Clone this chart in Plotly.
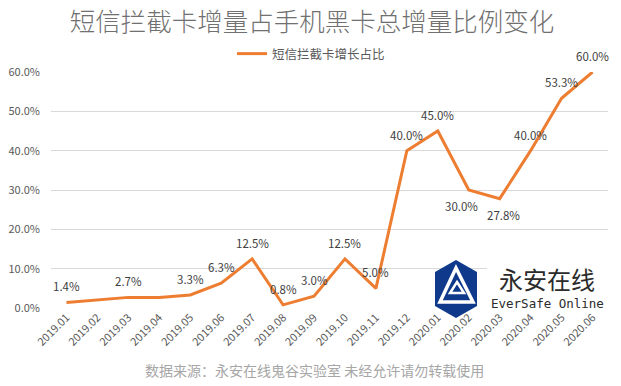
import plotly.graph_objects as go

# ---------------- data ----------------
months = ["2019.01", "2019.02", "2019.03", "2019.04", "2019.05", "2019.06",
          "2019.07", "2019.08", "2019.09", "2019.10", "2019.11", "2019.12",
          "2020.01", "2020.02", "2020.03", "2020.04", "2020.05", "2020.06"]
share_pct = [1.4, 2.1, 2.7, 2.7, 3.3, 6.3, 12.5, 0.8, 3.0, 12.5, 5.0, 40.0,
             45.0, 30.0, 27.8, 40.0, 53.3, 60.0]
y_ticks = [0, 10, 20, 30, 40, 50, 60]
y_tick_labels = ["0.0%", "10.0%", "20.0%", "30.0%", "40.0%", "50.0%", "60.0%"]
series_name = "短信拦截卡增长占比"
title_text = "短信拦截卡增量占手机黑卡总增量比例变化"
source_text = "数据来源：永安在线鬼谷实验室 未经允许请勿转载使用"
logo_cn = "永安在线"
logo_en = "EverSafe Online"

# ---------------- styling ----------------
W, H = 621, 386
FONT = "Noto Sans CJK SC"
ORANGE = "#ED7D31"
GRAY = "#595959"
NAVY = "#0f3a8c"

hidden_labels = {"2019.02", "2019.04"}
below_labels = {"2020.02": -7, "2020.03": 4}


def px(x):
    return x / W


def py(y):
    return 1 - y / H


fig = go.Figure()
fig.add_trace(go.Scatter(
    x=months, y=share_pct, mode="lines", name=series_name,
    line=dict(color=ORANGE, width=3), cliponaxis=False,
))

annotations = []
for i, (m, v) in enumerate(zip(months, share_pct)):
    if m in hidden_labels:
        continue
    if m in below_labels:
        ys, xs = -16, below_labels[m]
    else:
        ys, xs = 16, 0
    annotations.append(dict(
        x=i, y=v, xref="x", yref="y", text=f"{v:.1f}%", showarrow=False,
        yshift=ys, xshift=xs, xanchor="center", yanchor="middle",
        font=dict(family=FONT, size=11.5, color="#404040"),
    ))

# footer
annotations.append(dict(
    x=px(314), y=py(370), xref="paper", yref="paper", text=source_text,
    showarrow=False, xanchor="center", yanchor="middle",
    font=dict(family=FONT, size=14, color="#a6a6a6"),
))
# logo texts
annotations.append(dict(
    x=px(547), y=py(278), xref="paper", yref="paper", text=logo_cn,
    showarrow=False, xanchor="center", yanchor="middle",
    font=dict(family=FONT, size=24, color="#2b2b2b"),
))
annotations.append(dict(
    x=px(547), y=py(303), xref="paper", yref="paper", text=logo_en,
    showarrow=False, xanchor="center", yanchor="middle",
    font=dict(family="DejaVu Sans Mono", size=12.5, color="#2b2b2b"),
))


def poly(points):
    d = "M " + " L ".join(f"{px(a):.5f},{py(b):.5f}" for a, b in points) + " Z"
    return d


shapes = [
    dict(type="rect", xref="paper", yref="paper", x0=px(487), x1=px(608),
         y0=py(309), y1=py(264), fillcolor="white", line=dict(width=0), layer="above"),
    dict(type="path", xref="paper", yref="paper", layer="above",
         path=poly([(456, 260), (477, 272), (477, 306), (456, 318), (435, 306), (435, 272)]),
         fillcolor=NAVY, line=dict(width=0)),
    dict(type="path", xref="paper", yref="paper", layer="above",
         path=poly([(456, 268), (473, 302), (440, 302)]),
         fillcolor="rgba(0,0,0,0)", line=dict(color="white", width=3.5)),
    dict(type="path", xref="paper", yref="paper", layer="above",
         path=poly([(457, 282), (464, 293), (450, 293)]),
         fillcolor="rgba(0,0,0,0)", line=dict(color="white", width=2.5)),
]

fig.update_layout(
    width=W, height=H,
    margin=dict(l=0, r=0, t=0, b=0, autoexpand=False),
    paper_bgcolor="white", plot_bgcolor="white",
    font=dict(family=FONT, color=GRAY),
    title=dict(text=title_text, x=px(312), xanchor="center", y=py(22), yanchor="middle",
               font=dict(family=FONT, size=25.5, color="#707070", weight=300)),
    showlegend=True,
    legend=dict(orientation="h", x=px(311), xanchor="center", y=py(54), yanchor="middle",
                font=dict(family=FONT, size=12.5, color=GRAY), bgcolor="rgba(0,0,0,0)"),
    xaxis=dict(type="category", domain=[px(51), px(608)], range=[-0.5, 17.5],
               showgrid=False, showline=False, zeroline=False, ticks="",
               tickangle=-45, tickfont=dict(family=FONT, size=11, color=GRAY),
               fixedrange=True, automargin=False),
    yaxis=dict(domain=[py(308), py(72)], range=[0, 60], tickvals=y_ticks,
               ticktext=y_tick_labels, showgrid=True, gridcolor="#d9d9d9", gridwidth=1,
               zeroline=False, showline=False, ticks="", ticklabelstandoff=10,
               tickfont=dict(family=FONT, size=11, color=GRAY), fixedrange=True,
               automargin=False),
    annotations=annotations,
    shapes=shapes,
)

fig.write_html("out.html", config={"displayModeBar": False},
               post_script="document.body.style.margin='0px';")
